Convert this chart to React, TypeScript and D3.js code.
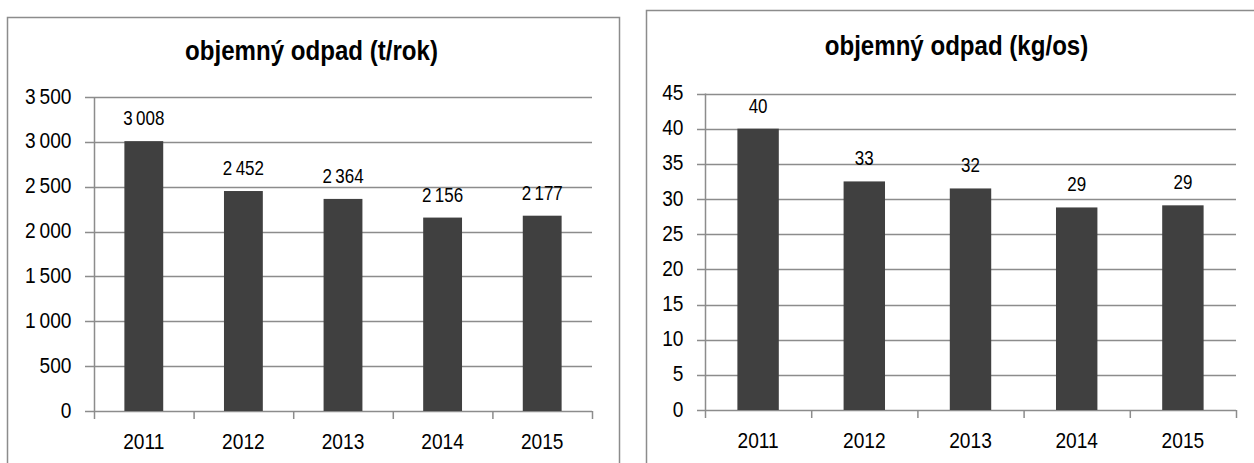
import React from "react";
import * as d3 from "d3";

const years = ["2011", "2012", "2013", "2014", "2015"];
const tonsPerYear = [3008, 2452, 2364, 2156, 2177];
const kgPerPerson = [40, 32.5, 31.5, 28.8, 29.1];
const kgLabels = ["40", "33", "32", "29", "29"];
const tonsTicks = [0, 500, 1000, 1500, 2000, 2500, 3000, 3500];
const kgTicks = [0, 5, 10, 15, 20, 25, 30, 35, 40, 45];
const titleLeft = "objemný odpad (t/rok)";
const titleRight = "objemný odpad (kg/os)";

const locale = d3.formatLocale({ decimal: ",", thousands: "\u2009", grouping: [3], currency: ["", ""] });
const fmt = locale.format(",d");

const FONT = "'Liberation Sans', Arial, sans-serif";
const GRID = "#8c8c8c";
const BAR = "#404040";
const SX = 0.87;

function T(props: { x: number; y: number; size: number; anchor: string; bold?: boolean; sx?: number; children: React.ReactNode }) {
  const sx = props.sx ?? SX;
  return (
    <text
      transform={`translate(${props.x},${props.y}) scale(${sx},1)`}
      textAnchor={props.anchor}
      fontFamily={FONT}
      fontWeight={props.bold ? "bold" : "normal"}
      fontSize={props.size}
      fill="#000"
    >
      {props.children}
    </text>
  );
}

type PanelProps = {
  frame: { x: number; y: number; w: number; h: number };
  title: string;
  titleX: number;
  titleY: number;
  x0: number;
  x1: number;
  yTop: number;
  yBottom: number;
  gridStart: number;
  maxV: number;
  ticks: number[];
  values: number[];
  labels: string[];
  tickFmt: (v: number) => string;
};

function Panel(p: PanelProps) {
  const x = d3.scaleBand<string>().domain(years).range([p.x0, p.x1]).paddingInner(0).paddingOuter(0);
  const y = d3.scaleLinear().domain([0, p.maxV]).range([p.yBottom, p.yTop]);
  const bw = x.bandwidth();
  const barW = bw * 0.39;
  const boundaries = [...years.map((c) => x(c) as number), p.x1];
  return (
    <g>
      <rect x={p.frame.x} y={p.frame.y} width={p.frame.w} height={p.frame.h} fill="#fff" stroke={GRID} strokeWidth={1.5} />
      <T x={p.titleX} y={p.titleY} size={28} anchor="middle" bold sx={0.86}>
        {p.title}
      </T>
      {p.ticks.map((t) => (
        <g key={t}>
          <line x1={p.gridStart} x2={p.x1} y1={Math.round(y(t)) + 0.5} y2={Math.round(y(t)) + 0.5} stroke={GRID} strokeWidth={1.5} />
          <T x={p.gridStart - 13.5} y={y(t) + 6.5} size={22} anchor="end">
            {p.tickFmt(t)}
          </T>
        </g>
      ))}
      <line x1={p.x0 + 0.5} x2={p.x0 + 0.5} y1={p.yTop} y2={p.yBottom} stroke={GRID} strokeWidth={1.5} />
      {p.values.map((v, i) => {
        const cx = (x(years[i]) as number) + bw / 2;
        return (
          <g key={years[i]}>
            <rect x={cx - barW / 2} y={y(v)} width={barW} height={p.yBottom - y(v)} fill={BAR} />
            <T x={cx} y={y(v) - 16} size={19.5} anchor="middle">
              {p.labels[i]}
            </T>
            <T x={cx} y={p.yBottom + 38} size={22} anchor="middle">
              {years[i]}
            </T>
          </g>
        );
      })}
      {boundaries.map((b, i) => (
        <line key={i} x1={b + 0.5} x2={b + 0.5} y1={p.yBottom} y2={p.yBottom + 8} stroke={GRID} strokeWidth={1.5} />
      ))}
    </g>
  );
}

export default function App() {
  return (
    <svg width={1254} height={463} style={{ position: "absolute", left: 0, top: 0 }}>
      <rect x={0} y={0} width={1254} height={463} fill="#fff" />
      <Panel
        frame={{ x: 7.5, y: 17.5, w: 612, h: 470 }}
        title={titleLeft}
        titleX={311.5}
        titleY={59.5}
        x0={94}
        x1={592}
        yTop={97}
        yBottom={411}
        gridStart={85}
        maxV={3500}
        ticks={tonsTicks}
        values={tonsPerYear}
        labels={tonsPerYear.map((v) => fmt(v))}
        tickFmt={(v) => fmt(v)}
      />
      <Panel
        frame={{ x: 646.5, y: 10.5, w: 640, h: 470 }}
        title={titleRight}
        titleX={956.5}
        titleY={55}
        x0={705}
        x1={1236}
        yTop={93.5}
        yBottom={410}
        gridStart={697}
        maxV={45}
        ticks={kgTicks}
        values={kgPerPerson}
        labels={kgLabels}
        tickFmt={(v) => String(v)}
      />
    </svg>
  );
}
